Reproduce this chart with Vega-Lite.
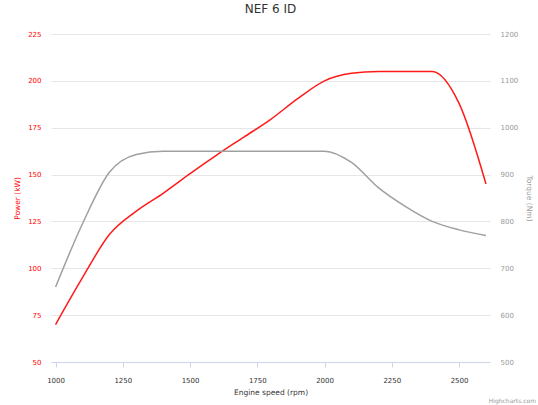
{
  "$schema": "https://vega.github.io/schema/vega-lite/v6.json",
  "width": 439,
  "height": 328,
  "autosize": "none",
  "padding": {"left": 51, "top": 34, "right": 48, "bottom": 43},
  "title": {"text": "NEF 6 ID", "fontSize": 12, "font": "DejaVu Sans", "fontWeight": "normal", "color": "#333333", "frame": "group", "offset": 14, "anchor": "middle"},
  "config": {"view": {"stroke": null}, "font": "DejaVu Sans"},
  "datasets": {
    "engine": [
      {"rpm": 1000, "power": 70, "torque": 660},
      {"rpm": 1100, "power": 95, "torque": 795},
      {"rpm": 1200, "power": 118, "torque": 905},
      {"rpm": 1300, "power": 130.5, "torque": 943},
      {"rpm": 1400, "power": 140, "torque": 950},
      {"rpm": 1500, "power": 150.5, "torque": 950},
      {"rpm": 1600, "power": 160.5, "torque": 950},
      {"rpm": 1700, "power": 170, "torque": 950},
      {"rpm": 1800, "power": 179.5, "torque": 950},
      {"rpm": 1900, "power": 190.5, "torque": 950},
      {"rpm": 2000, "power": 200, "torque": 950},
      {"rpm": 2100, "power": 204, "torque": 926},
      {"rpm": 2200, "power": 205, "torque": 872},
      {"rpm": 2300, "power": 205, "torque": 832},
      {"rpm": 2400, "power": 205, "torque": 800},
      {"rpm": 2500, "power": 188, "torque": 782},
      {"rpm": 2600, "power": 145, "torque": 770}
    ],
    "credits": [{"label": "Highcharts.com"}]
  },
  "layer": [
    {
      "data": {"name": "engine"},
      "mark": {"type": "line", "color": "#ff1a1a", "strokeWidth": 1.5, "interpolate": "monotone"},
      "encoding": {
        "x": {
          "field": "rpm", "type": "quantitative",
          "scale": {"domain": [983, 2615], "nice": false, "zero": false},
          "axis": {
            "title": "Engine speed (rpm)", "values": [1000, 1250, 1500, 1750, 2000, 2250, 2500], "format": "d",
            "grid": false, "domainColor": "#ccd6eb", "tickColor": "#ccd6eb", "tickSize": 5,
            "labelFontSize": 7, "labelColor": "#333333", "labelPadding": 9,
            "titleFontSize": 7.5, "titleFontWeight": "normal", "titleColor": "#333333", "titlePadding": 5
          }
        },
        "y": {
          "field": "power", "type": "quantitative",
          "scale": {"domain": [50, 225], "nice": false, "zero": false},
          "axis": {
            "orient": "left", "title": "Power (kW)", "values": [50, 75, 100, 125, 150, 175, 200, 225], "format": "d",
            "grid": true, "gridColor": "#e6e6e6", "domain": false, "ticks": false, "tickSize": 0,
            "labelFontSize": 7, "labelColor": "#ff0000", "labelPadding": 10,
            "titleFontSize": 7.5, "titleFontWeight": "normal", "titleColor": "#ff0000", "titlePadding": 6
          }
        }
      }
    },
    {
      "data": {"name": "engine"},
      "mark": {"type": "line", "color": "#a0a0a0", "strokeWidth": 1.5, "interpolate": "monotone"},
      "encoding": {
        "x": {"field": "rpm", "type": "quantitative"},
        "y": {
          "field": "torque", "type": "quantitative",
          "scale": {"domain": [500, 1200], "nice": false, "zero": false},
          "axis": {
            "orient": "right", "title": "Torque (Nm)", "values": [500, 600, 700, 800, 900, 1000, 1100, 1200], "format": "d",
            "grid": false, "domain": false, "ticks": false, "tickSize": 0,
            "labelFontSize": 7, "labelColor": "#999999", "labelPadding": 10,
            "titleFontSize": 7.5, "titleFontWeight": "normal", "titleColor": "#999999", "titlePadding": 7
          }
        }
      }
    },
    {
      "data": {"name": "credits"},
      "mark": {"type": "text", "align": "right", "baseline": "middle", "fontSize": 6, "color": "#999999", "dx": 46, "dy": 39},
      "encoding": {
        "x": {"datum": 2615, "type": "quantitative"},
        "y": {"datum": 50, "type": "quantitative", "scale": {"domain": [50, 225], "nice": false, "zero": false}, "axis": null},
        "text": {"field": "label"}
      }
    }
  ],
  "resolve": {"scale": {"y": "independent"}}
}
